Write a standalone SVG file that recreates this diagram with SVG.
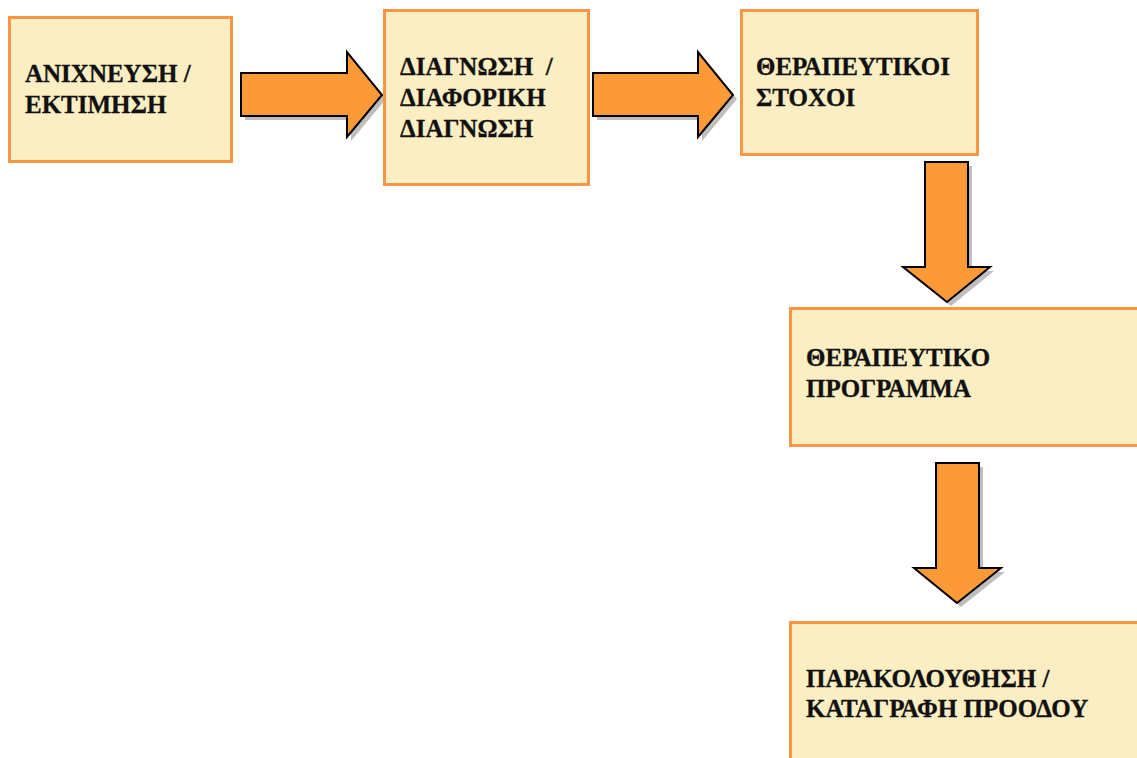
<svg xmlns="http://www.w3.org/2000/svg" width="1137" height="758" viewBox="0 0 1137 758">
<style>
.box{fill:#FBEEC2;stroke:#F79646;stroke-width:3}
.lbl{font-family:"Liberation Serif","DejaVu Serif",serif;font-weight:bold;font-size:25px;fill:#111;white-space:pre;stroke:#111;stroke-width:0.3}
.arr{fill:#FB9A37;stroke:#000;stroke-width:2;stroke-linejoin:miter}
.sh{fill:#BEBEBE}
</style>
<rect width="1137" height="758" fill="#fff"/>
<g id="connectors">
  <g id="arrow1">
    <polygon class="sh" transform="translate(4,4)" points="241,73 347,73 347,52 382,95 347,137 347,116 241,116"/>
    <polygon class="arr" points="241,73 347,73 347,52 382,95 347,137 347,116 241,116"/>
  </g>
  <g id="arrow2">
    <polygon class="sh" transform="translate(4,4)" points="593,73 698,73 698,52 733,95 698,137 698,116 593,116"/>
    <polygon class="arr" points="593,73 698,73 698,52 733,95 698,137 698,116 593,116"/>
  </g>
  <g id="arrow3">
    <polygon class="sh" transform="translate(4,4)" points="925,162 968,162 968,267 990,267 947,302 903,267 925,267"/>
    <polygon class="arr" points="925,162 968,162 968,267 990,267 947,302 903,267 925,267"/>
  </g>
  <g id="arrow4">
    <polygon class="sh" transform="translate(4,4)" points="936,463 979,463 979,568 1001,568 957,603 914,568 936,568"/>
    <polygon class="arr" points="936,463 979,463 979,568 1001,568 957,603 914,568 936,568"/>
  </g>
</g>
<g id="node1">
  <rect class="box" x="9.5" y="17.5" width="222" height="144"/>
  <text class="lbl" x="25" y="82">ΑΝΙΧΝΕΥΣΗ /</text>
  <text class="lbl" x="25" y="113">ΕΚΤΙΜΗΣΗ</text>
</g>
<g id="node2">
  <rect class="box" x="384.5" y="10.5" width="204" height="174"/>
  <text class="lbl" x="400" y="75">ΔΙΑΓΝΩΣΗ  /</text>
  <text class="lbl" x="400" y="106">ΔΙΑΦΟΡΙΚΗ</text>
  <text class="lbl" x="400" y="137">ΔΙΑΓΝΩΣΗ</text>
</g>
<g id="node3">
  <rect class="box" x="741.5" y="10.5" width="236" height="144"/>
  <text class="lbl" x="756" y="75">ΘΕΡΑΠΕΥΤΙΚΟΙ</text>
  <text class="lbl" x="756" y="106">ΣΤΟΧΟΙ</text>
</g>
<g id="node4">
  <rect class="box" x="790.5" y="308.5" width="360" height="137"/>
  <text class="lbl" x="806" y="366">ΘΕΡΑΠΕΥΤΙΚΟ</text>
  <text class="lbl" x="806" y="397">ΠΡΟΓΡΑΜΜΑ</text>
</g>
<g id="node5">
  <rect class="box" x="790.5" y="622.5" width="360" height="150"/>
  <text class="lbl" x="806" y="687">ΠΑΡΑΚΟΛΟΥΘΗΣΗ /</text>
  <text class="lbl" x="806" y="717">ΚΑΤΑΓΡΑΦΗ ΠΡΟΟΔΟΥ</text>
</g>
</svg>
